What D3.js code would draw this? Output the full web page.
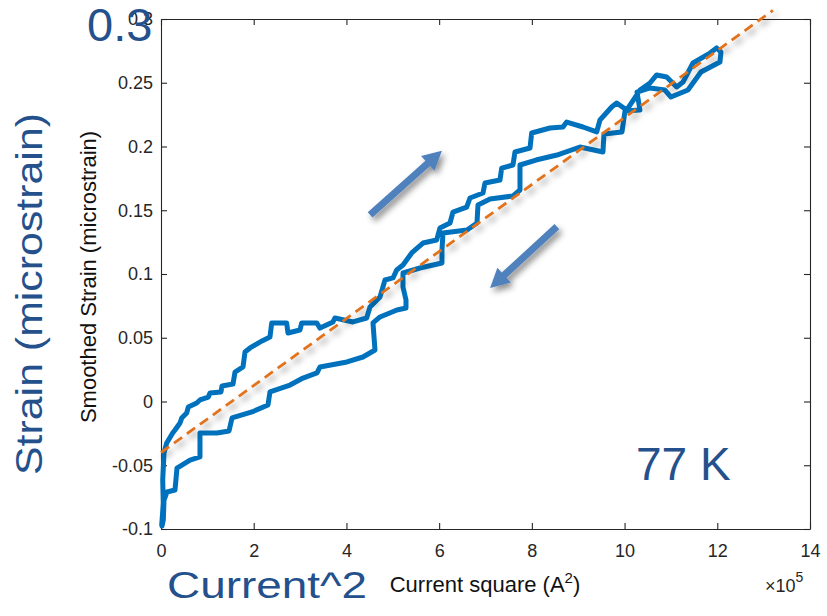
<!DOCTYPE html>
<html>
<head>
<meta charset="utf-8">
<script src="https://cdn.jsdelivr.net/npm/d3@7"></script>
<style>
  body { margin: 0; background: #fff; }
  text { font-family: "Liberation Sans", Arial, sans-serif; }
</style>
</head>
<body>
<svg id="chart" width="827" height="616"></svg>
<script>
// loading branch (upper-left side of the loop), current^2 in 1e5 A^2, strain in microstrain
const upCurrent = [0.015, 0.05, 0.037, 0.065, 0.123, 0.252, 0.302, 0.41, 0.447, 0.554, 0.589, 0.77, 0.841, 1.02, 1.057,
  1.294, 1.316, 1.553, 1.596, 1.769, 1.812, 1.92, 2.179, 2.351, 2.388, 2.711, 2.739, 2.998, 3.035, 3.359, 3.43, 3.71,
  3.753, 4.142, 4.437, 4.508, 4.724, 4.832, 5.004, 5.084, 5.22, 5.408, 5.651, 5.947, 6.018, 6.234, 6.299, 6.594, 6.665,
  6.946, 6.989, 7.312, 7.349, 7.593, 7.636, 7.96, 7.996, 8.391, 8.671, 8.751, 9.103, 9.398, 9.469, 9.722, 9.83, 10.045,
  10.332, 10.548, 10.692, 10.908, 11.124, 11.26, 11.476, 11.842, 11.986];
const upStrain = [-0.097, -0.0796, -0.0616, -0.0404, -0.0325, -0.0247, -0.0224, -0.0169, -0.013, -0.009, -0.0043, -0.0012,
  0.0012, 0.0035, 0.0067, 0.0075, 0.0122, 0.0137, 0.0231, 0.0271, 0.0388, 0.042, 0.0475, 0.0506, 0.0616, 0.0616, 0.0537,
  0.0561, 0.0616, 0.0616, 0.0576, 0.0624, 0.0655, 0.0624, 0.0655, 0.0741, 0.082, 0.0953, 0.0969, 0.1031, 0.107, 0.1165,
  0.1243, 0.1267, 0.1361, 0.14, 0.1486, 0.1525, 0.1596, 0.1635, 0.1714, 0.1737, 0.1831, 0.1855, 0.1957, 0.1988, 0.2106,
  0.2145, 0.2153, 0.2192, 0.2153, 0.2114, 0.2208, 0.231, 0.2341, 0.2286, 0.2443, 0.2498, 0.2561, 0.2545, 0.2467, 0.2506,
  0.2655, 0.2733, 0.2773];

// unloading branch (lower-right side), going back down
const downCurrent = [12.079, 12.058, 11.648, 11.367, 11.001, 10.871, 10.548, 10.268, 10.332, 10.009, 9.944, 9.556, 9.534,
  9.038, 8.542, 8.089, 7.744, 7.744, 7.593, 7.097, 6.838, 6.816, 6.601, 6.083, 6.061, 6.061, 5.587, 5.22, 5.22, 5.285,
  5.285, 5.09, 4.724, 4.573, 4.616, 4.357, 4.012, 3.43, 3.365, 3.063, 2.783, 2.351, 2.308, 1.963, 1.532, 1.467, 1.208,
  0.841, 0.841, 0.626, 0.345, 0.302, 0.129, 0.065, 0.05, 0.022];
const downStrain = [0.2741, 0.2663, 0.2584, 0.2443, 0.2388, 0.2443, 0.2459, 0.2427, 0.2286, 0.2278, 0.2114, 0.2098, 0.1957,
  0.1996, 0.1933, 0.1894, 0.1855, 0.1659, 0.1612, 0.1588, 0.1541, 0.14, 0.1345, 0.1322, 0.1188, 0.1086, 0.1047, 0.1008,
  0.0898, 0.0796, 0.0733, 0.0718, 0.0663, 0.0616, 0.0404, 0.0349, 0.031, 0.0271, 0.0224, 0.0184, 0.0129, 0.0075, -0.0027,
  -0.0082, -0.0129, -0.0231, -0.0247, -0.0247, -0.0435, -0.0459, -0.0522, -0.0694, -0.071, -0.0773, -0.0929, -0.0976];

// linear fit
const fitCurrent = [0, 13.2];
const fitStrain = [-0.04, 0.3068];

// direction arrows [tailX, tailY, tipX, tipY]
const arrowUp = [4.51, 0.1463, 6.06, 0.1967];
const arrowDown = [8.54, 0.1371, 7.1, 0.089];

const xTicks = [0, 2, 4, 6, 8, 10, 12, 14];
const yTicks = [-0.1, -0.05, 0, 0.05, 0.1, 0.15, 0.2, 0.25, 0.3];

const svg = d3.select('#chart');
const x = d3.scaleLinear().domain([0, 14]).range([161, 810]);
const y = d3.scaleLinear().domain([-0.1, 0.3]).range([529, 19]);

const defs = svg.append('defs');
defs.append('filter').attr('id', 'shadow')
  .attr('x', '-20%').attr('y', '-20%').attr('width', '140%').attr('height', '140%')
  .append('feDropShadow')
  .attr('dx', 3).attr('dy', 4).attr('stdDeviation', 3)
  .attr('flood-color', '#000').attr('flood-opacity', 0.45);

svg.append('rect').attr('width', 827).attr('height', 616).attr('fill', '#fff');

// axes with inward ticks on all four sides
const axisColor = '#262626';
const fmt = d => String(+d.toFixed(2));

const gx = svg.append('g').attr('transform', 'translate(0,529)')
  .call(d3.axisBottom(x).tickValues(xTicks).tickSize(-6).tickSizeOuter(0).tickPadding(15).tickFormat(d3.format('d')));
const gxTop = svg.append('g').attr('transform', 'translate(0,19)')
  .call(d3.axisTop(x).tickValues(xTicks).tickSize(-6).tickSizeOuter(0).tickFormat(''));
const gy = svg.append('g').attr('transform', 'translate(161,0)')
  .call(d3.axisLeft(y).tickValues(yTicks).tickSize(-6).tickSizeOuter(0).tickPadding(8).tickFormat(fmt));
const gyRight = svg.append('g').attr('transform', 'translate(810,0)')
  .call(d3.axisRight(y).tickValues(yTicks).tickSize(-6).tickSizeOuter(0).tickFormat(''));

[gx, gxTop, gy, gyRight].forEach(g => {
  g.selectAll('path, line').attr('stroke', axisColor).attr('stroke-width', 1.1);
  g.selectAll('text').attr('fill', axisColor).style('font-size', '18px')
    .style('font-family', '"Liberation Sans", Arial, sans-serif');
});

// hysteresis loop
const line = d3.line().x(d => x(d[0])).y(d => y(d[1]));
const loop = upCurrent.map((c, i) => [c, upStrain[i]])
  .concat(downCurrent.map((c, i) => [c, downStrain[i]]));

svg.append('path')
  .datum(loop)
  .attr('d', line)
  .attr('fill', 'none')
  .attr('stroke', '#0072BD')
  .attr('stroke-width', 5)
  .attr('stroke-linejoin', 'round')
  .attr('stroke-linecap', 'round');

// fitted dashed line
svg.append('path')
  .datum(fitCurrent.map((c, i) => [c, fitStrain[i]]))
  .attr('d', line)
  .attr('fill', 'none')
  .attr('stroke', '#E2731C')
  .attr('stroke-width', 2.8)
  .attr('stroke-dasharray', '10,6')
  .attr('filter', 'url(#shadow)');

// arrows
function drawArrow(a) {
  const x0 = x(a[0]), y0 = y(a[1]), x1 = x(a[2]), y1 = y(a[3]);
  const ang = Math.atan2(y1 - y0, x1 - x0);
  const headLen = 19, headW = 10, shaftW = 3.5;
  const ux = Math.cos(ang), uy = Math.sin(ang);
  const px = -uy, py = ux;
  const bx = x1 - ux * headLen, by = y1 - uy * headLen;
  const pts = [
    [x0 + px * shaftW, y0 + py * shaftW],
    [bx + px * shaftW, by + py * shaftW],
    [bx + px * headW, by + py * headW],
    [x1, y1],
    [bx - px * headW, by - py * headW],
    [bx - px * shaftW, by - py * shaftW],
    [x0 - px * shaftW, y0 - py * shaftW]
  ];
  svg.append('polygon')
    .attr('points', pts.map(p => p.join(',')).join(' '))
    .attr('fill', '#4F81BD')
    .attr('filter', 'url(#shadow)');
}
drawArrow(arrowUp);
drawArrow(arrowDown);

// axis labels
svg.append('text')
  .attr('transform', 'translate(96,277) rotate(-90)')
  .attr('text-anchor', 'middle')
  .attr('fill', '#111')
  .style('font-size', '22px')
  .text('Smoothed Strain (microstrain)');

const xl = svg.append('text')
  .attr('x', 485).attr('y', 592)
  .attr('text-anchor', 'middle')
  .attr('fill', '#111')
  .style('font-size', '22px');
xl.append('tspan').text('Current square (A');
xl.append('tspan').attr('dy', -9).style('font-size', '15px').text('2');
xl.append('tspan').attr('dy', 9).text(')');

const ex = svg.append('text')
  .attr('x', 765).attr('y', 592)
  .attr('fill', axisColor)
  .style('font-size', '18px');
ex.append('tspan').text('×10');
ex.append('tspan').attr('dy', -10).style('font-size', '14px').text('5');

// overlay annotations
const noteColor = '#24508C';
svg.append('text')
  .attr('x', 87).attr('y', 41)
  .attr('fill', noteColor)
  .style('font-size', '47px')
  .text('0.3');

svg.append('text')
  .attr('transform', 'translate(42,475) rotate(-90)')
  .attr('fill', noteColor)
  .attr('textLength', 362)
  .attr('lengthAdjust', 'spacingAndGlyphs')
  .style('font-size', '37px')
  .text('Strain (microstrain)');

svg.append('text')
  .attr('x', 167).attr('y', 598)
  .attr('fill', noteColor)
  .attr('textLength', 200)
  .attr('lengthAdjust', 'spacingAndGlyphs')
  .style('font-size', '36px')
  .text('Current^2');

svg.append('text')
  .attr('x', 636).attr('y', 480)
  .attr('fill', noteColor)
  .style('font-size', '46px')
  .text('77 K');
</script>
</body>
</html>
